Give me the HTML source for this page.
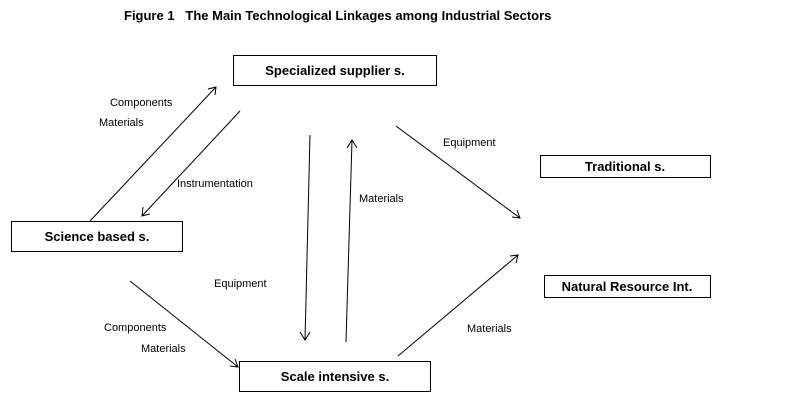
<html><body style="margin:0;background:#fff">
<svg width="796" height="417" xmlns="http://www.w3.org/2000/svg" font-family="Liberation Sans, sans-serif">
<rect width="796" height="417" fill="#fff"/>
<text x="124" y="20" font-size="13" font-weight="bold">Figure 1&#160;&#160;&#160;The Main Technological Linkages among Industrial Sectors</text>
<g fill="#fff" stroke="#000" stroke-width="1">
<rect x="233.5" y="55.5" width="203" height="30"/>
<rect x="11.5" y="221.5" width="171" height="30"/>
<rect x="540.5" y="155.5" width="170" height="22"/>
<rect x="544.5" y="275.5" width="166" height="22"/>
<rect x="239.5" y="361.5" width="191" height="30"/>
</g>
<g font-size="13" font-weight="bold" text-anchor="middle">
<text x="335" y="75">Specialized supplier s.</text>
<text x="97" y="241">Science based s.</text>
<text x="625" y="171">Traditional s.</text>
<text x="627" y="291">Natural Resource Int.</text>
<text x="335" y="381">Scale intensive s.</text>
</g>
<g stroke="#000" stroke-width="1" fill="none">
<path d="M90 221 L216 87 M208 89 L216 87 L215 95"/>
<path d="M240 111 L142 216 M143 207 L142 216 L150 214"/>
<path d="M310 135 L305 340 M300 332 L305 340 L310 332"/>
<path d="M346 342 L352 140 M347 148 L352 140 L357 148"/>
<path d="M396 126 L520 218 M512 217 L520 218 L517 210"/>
<path d="M130 281 L238 367 M230 366 L238 367 L235 359"/>
<path d="M398 356 L518 255 M510 256 L518 255 L516 263"/>
</g>
<g font-size="11">
<text x="110" y="106">Components</text>
<text x="99" y="126">Materials</text>
<text x="177" y="187">Instrumentation</text>
<text x="359" y="202">Materials</text>
<text x="443" y="146">Equipment</text>
<text x="214" y="287">Equipment</text>
<text x="104" y="331">Components</text>
<text x="141" y="352">Materials</text>
<text x="467" y="332">Materials</text>
</g>
</svg>
</body></html>
